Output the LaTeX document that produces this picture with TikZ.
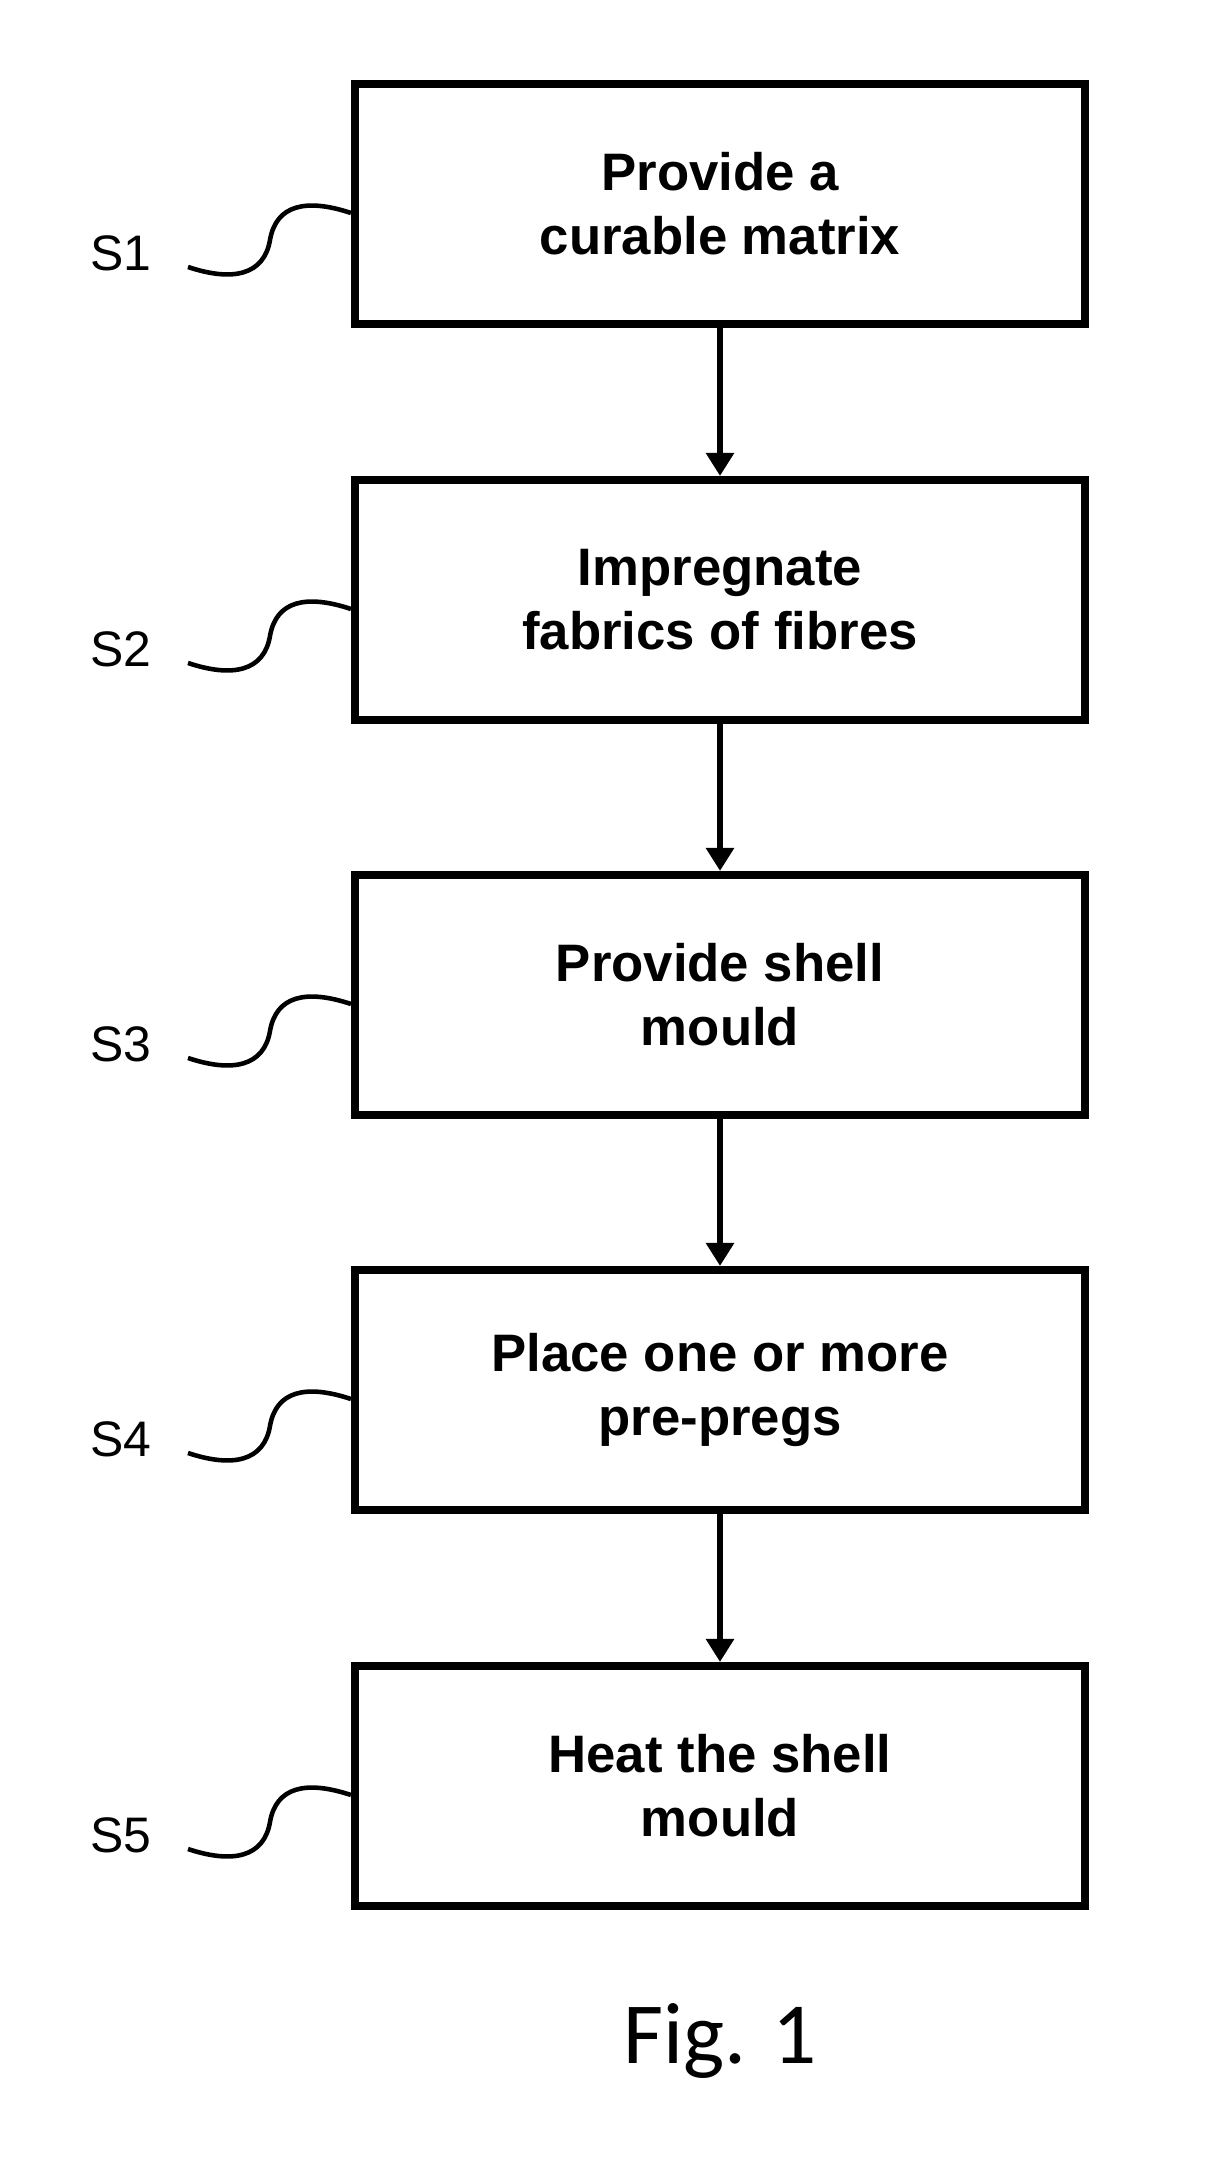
\documentclass[tikz,border=0pt]{standalone}
\usepackage{fontspec}
\setmainfont{Liberation Sans}
\newfontfamily\figfont{Carlito}
\usetikzlibrary{arrows.meta,positioning}

\begin{document}
\begin{tikzpicture}[
            box/.style={rectangle, draw, line width=2.3pt, minimum width=7.3cm, minimum height=2.4cm, text centered, align=center, font=\fontsize{15}{18.2}\selectfont\bfseries},
            arrow/.style={-{Triangle[length=0.23cm,width=0.27cm]}, line width=1.7pt},
            steplabel/.style={font=\fontsize{14.2}{17}\selectfont, inner sep=0pt},
            wave/.style={line width=1.3pt}
        ]
            \useasboundingbox (0,0) rectangle (12.13,-21.74);

            \node[box] (impreg) at (7.2,-6.00) {Impregnate\\fabrics of fibres};
            \node[box] (matrix) at (7.2,-2.04) {Provide a\\curable matrix};
            \node[box] (mould) at (7.2,-9.95) {Provide shell\\mould};
            \node[box] (prepreg) at (7.2,-13.90) {Place one or more\\pre-pregs};
            \node[box] (heat) at (7.2,-17.86) {Heat the shell\\mould};

            \draw[arrow] (matrix) -- (impreg);
            \draw[arrow] (impreg) -- (mould);
            \draw[arrow] (mould) -- (prepreg);
            \draw[arrow] (prepreg) -- (heat);

            % step numbers with their leader curves
            \node[steplabel] (s1) at (1.21,-2.53) {S1};
            \node[steplabel] (s2) at (1.21,-6.49) {S2};
            \node[steplabel] (s3) at (1.21,-10.44) {S3};
            \node[steplabel] (s4) at (1.21,-14.39) {S4};
            \node[steplabel] (s5) at (1.21,-18.35) {S5};
            \coordinate (w1) at (1.88,-2.67);
            \coordinate (w2) at (1.88,-6.63);
            \coordinate (w3) at (1.88,-10.58);
            \coordinate (w4) at (1.88,-14.53);
            \coordinate (w5) at (1.88,-18.49);

            \draw[wave] (w1) .. controls +(0.45,-0.15) and +(-0.06,-0.35) .. ++(0.82,0.27) .. controls +(0.06,0.35) and +(-0.45,0.15) .. ([yshift=-0.09cm]matrix.west);
            \draw[wave] (w2) .. controls +(0.45,-0.15) and +(-0.06,-0.35) .. ++(0.82,0.27) .. controls +(0.06,0.35) and +(-0.45,0.15) .. ([yshift=-0.09cm]impreg.west);
            \draw[wave] (w3) .. controls +(0.45,-0.15) and +(-0.06,-0.35) .. ++(0.82,0.27) .. controls +(0.06,0.35) and +(-0.45,0.15) .. ([yshift=-0.09cm]mould.west);
            \draw[wave] (w4) .. controls +(0.45,-0.15) and +(-0.06,-0.35) .. ++(0.82,0.27) .. controls +(0.06,0.35) and +(-0.45,0.15) .. ([yshift=-0.09cm]prepreg.west);
            \draw[wave] (w5) .. controls +(0.45,-0.15) and +(-0.06,-0.35) .. ++(0.82,0.27) .. controls +(0.06,0.35) and +(-0.45,0.15) .. ([yshift=-0.09cm]heat.west);

            \node[font=\figfont\fontsize{24.8}{28}\selectfont, anchor=base, inner sep=0pt] (caption) at (7.2,-20.63) {Fig. 1};
        \end{tikzpicture}
\end{document}
